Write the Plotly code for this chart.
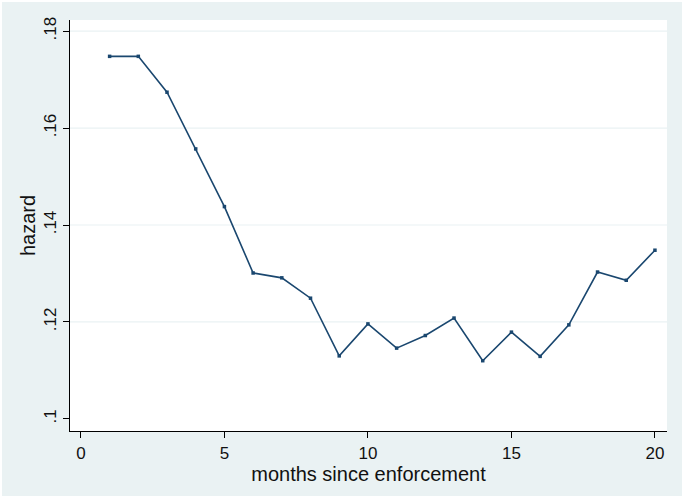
import plotly.graph_objects as go

# Hazard by months since enforcement
months = list(range(1, 21))
hazard = [0.1748, 0.1748, 0.1674, 0.1557, 0.1438, 0.1301, 0.1291, 0.1249, 0.1130, 0.1196,
          0.1146, 0.1172, 0.1208, 0.1120, 0.1179, 0.1129, 0.1194, 0.1303, 0.1286, 0.1348]

x_ticks = [0, 5, 10, 15, 20]
y_ticks = [0.10, 0.12, 0.14, 0.16, 0.18]
y_tick_text = [".1", ".12", ".14", ".16", ".18"]
grid_levels = [0.12, 0.14, 0.16, 0.18]

LINE = "#1a476f"
BG = "#eaf2f3"
FONT = "Liberation Sans, Arial, sans-serif"

W, H = 682, 496
ML, MR, MT, MB = 70, 15, 20, 65
PW, PH = W - ML - MR, H - MT - MB


def px_x(p):
    return (p - ML) / PW


def px_y(p):
    return (H - MB - p) / PH


fig = go.Figure()
fig.add_trace(go.Scatter(
    x=months, y=hazard, mode="lines+markers",
    line=dict(color=LINE, width=1.6),
    marker=dict(symbol="square", size=3.5, color=LINE),
    showlegend=False,
))

for g in grid_levels:
    fig.add_shape(type="line", xref="paper", yref="y", x0=0, x1=1, y0=g, y1=g,
                  line=dict(color=BG, width=1.2), layer="below")

# thin white frame along the top and left edges of the page
fig.add_shape(type="rect", xref="paper", yref="paper", x0=px_x(0), x1=px_x(W),
              y0=px_y(2), y1=px_y(0), fillcolor="white", line_width=0, layer="below")
fig.add_shape(type="rect", xref="paper", yref="paper", x0=px_x(0), x1=px_x(2),
              y0=px_y(H), y1=px_y(0), fillcolor="white", line_width=0, layer="below")

fig.update_layout(
    width=W, height=H,
    margin=dict(l=ML, r=MR, t=MT, b=MB),
    paper_bgcolor=BG, plot_bgcolor="white",
    font=dict(family=FONT, size=17, color="#111111"),
    xaxis=dict(
        range=[-0.38, 20.42], tickvals=x_ticks, showgrid=False, zeroline=False,
        showline=True, linecolor="black", linewidth=1.2,
        ticks="outside", ticklen=6, tickcolor="black", tickwidth=1,
        title=dict(text="months since enforcement", standoff=0),
    ),
    yaxis=dict(
        range=[0.0975, 0.1823], tickvals=y_ticks, ticktext=y_tick_text,
        tickangle=-90, showgrid=False, zeroline=False,
        showline=True, linecolor="black", linewidth=1.2,
        ticks="outside", ticklen=6, tickcolor="black", tickwidth=1,
        title=dict(text="hazard", standoff=0),
    ),
)

fig.write_html("out.html")
